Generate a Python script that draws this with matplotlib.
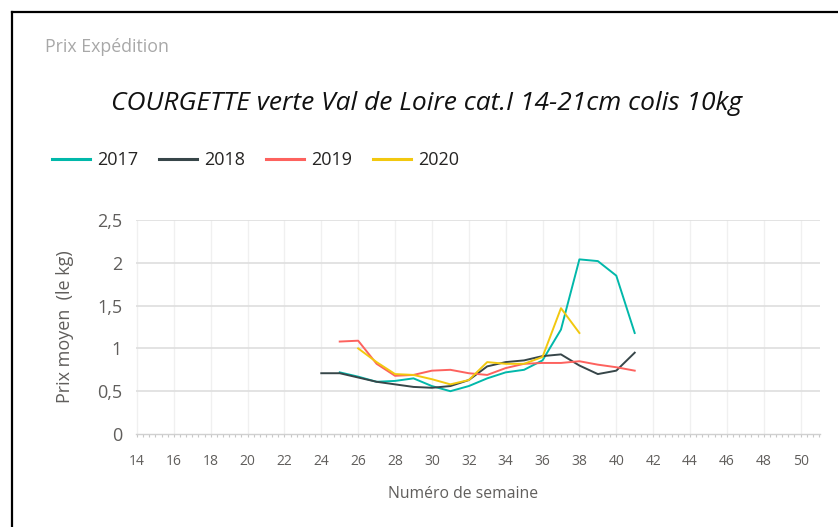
import matplotlib
matplotlib.use("Agg")
import matplotlib.pyplot as plt
from matplotlib.lines import Line2D
import numpy as np

# ---- data ----
weeks_2017 = [25, 26, 27, 28, 29, 30, 31, 32, 33, 34, 35, 36, 37, 38, 39, 40, 41]
price_2017 = [0.72, 0.67, 0.61, 0.62, 0.65, 0.56, 0.50, 0.56, 0.65, 0.72, 0.75, 0.86, 1.22, 2.04, 2.02, 1.85, 1.18]

weeks_2018 = [24, 25, 26, 27, 28, 29, 30, 31, 32, 33, 34, 35, 36, 37, 38, 39, 40, 41]
price_2018 = [0.71, 0.71, 0.66, 0.61, 0.58, 0.55, 0.54, 0.56, 0.63, 0.79, 0.84, 0.86, 0.91, 0.93, 0.80, 0.70, 0.74, 0.95]

weeks_2019 = [25, 26, 27, 28, 29, 30, 31, 32, 33, 34, 35, 36, 37, 38, 39, 40, 41]
price_2019 = [1.08, 1.09, 0.82, 0.68, 0.69, 0.74, 0.75, 0.71, 0.69, 0.77, 0.82, 0.83, 0.83, 0.85, 0.81, 0.78, 0.74]

weeks_2020 = [26, 27, 28, 29, 30, 31, 32, 33, 34, 35, 36, 37, 38]
price_2020 = [1.00, 0.84, 0.70, 0.69, 0.64, 0.58, 0.63, 0.84, 0.82, 0.82, 0.90, 1.47, 1.18]

series_labels = ["2017", "2018", "2019", "2020"]
series_colors = ["#01B8AA", "#374649", "#FD625E", "#F2C80F"]

x_ticks = list(range(14, 51, 2))
y_ticks = [0, 0.5, 1, 1.5, 2, 2.5]
y_tick_labels = ["0", "0,5", "1", "1,5", "2", "2,5"]

page_title = "Prix Expédition"
chart_title = "COURGETTE verte Val de Loire cat.I 14-21cm colis 10kg"
x_label = "Numéro de semaine"
y_label = "Prix moyen  (le kg)"

# ---- figure ----
W, H = 838, 527
fig = plt.figure(figsize=(W / 100, H / 100), dpi=100)
fig.patch.set_facecolor("white")
FONT = ["Open Sans", "DejaVu Sans"]
TXT = "#605E5C"

def fx(px):
    return px / W

def fy(py):
    return 1 - py / H

ax = fig.add_axes([fx(136), fy(434), fx(820) - fx(136), fy(220) - fy(434)])

all_weeks = [weeks_2017, weeks_2018, weeks_2019, weeks_2020]
all_prices = [price_2017, price_2018, price_2019, price_2020]
for wk, pr, lab, col in zip(all_weeks, all_prices, series_labels, series_colors):
    ax.plot(wk, pr, color=col, lw=1.4, label=lab, solid_joinstyle="round", zorder=3)

ax.set_xlim(13.95, 51.05)
ax.set_ylim(0, 2.5)
ax.set_xticks(x_ticks)
ax.set_xticklabels([str(t) for t in x_ticks], fontsize=10, color=TXT, family=FONT)
ax.set_xticks(np.arange(14, 51.01, 1 / 3), minor=True)
ax.set_yticks(y_ticks)
ax.set_yticklabels(y_tick_labels, fontsize=13, color=TXT, family=FONT)

ax.tick_params(axis="x", which="both", length=2.5, width=0.8, color="#c8c8c8", pad=12)
ax.tick_params(axis="y", which="both", length=0, pad=10)

for s in ["top", "right", "left"]:
    ax.spines[s].set_visible(False)
ax.spines["bottom"].set_color("#d0d0d0")
ax.spines["bottom"].set_linewidth(1.0)

for t in y_ticks[1:]:
    ax.axhline(t, color="#e0e0e0", lw=1.3, zorder=1)
for t in x_ticks:
    ax.axvline(t, color="#f0f0f0", lw=1.0, zorder=0.5)

# axis titles
fig.text(fx(65), fy(327), y_label, fontsize=13, color=TXT, family=FONT,
         rotation=90, ha="center", va="center")
fig.text(fx(463), fy(494), x_label, fontsize=11.3, color=TXT, family=FONT,
         ha="center", va="center")

# texts
fig.text(fx(45), fy(47), page_title, fontsize=12.8, color="#a8a8a8", family=FONT,
         ha="left", va="center")
fig.text(fx(427), fy(104), chart_title, fontsize=19, color="#111111", family=FONT,
         style="italic", ha="center", va="center")

# legend
handles = [Line2D([0], [0], color=c, lw=2.2) for c in series_colors]
leg = fig.legend(handles, series_labels, loc="center left",
                 bbox_to_anchor=(fx(52), fy(160)), ncol=4, frameon=False,
                 prop={"family": FONT, "size": 13}, handlelength=2.1,
                 handletextpad=0.4, columnspacing=1.15, labelcolor="#252423",
                 borderaxespad=0, borderpad=0)

# border
fig.add_artist(Line2D([fx(12), 1.0], [fy(12), fy(12)], color="black", lw=1.6,
                      transform=fig.transFigure))
fig.add_artist(Line2D([fx(12), fx(12)], [0, fy(12)], color="black", lw=1.6,
                      transform=fig.transFigure))

fig.savefig("out.png", dpi=100, facecolor="white")
